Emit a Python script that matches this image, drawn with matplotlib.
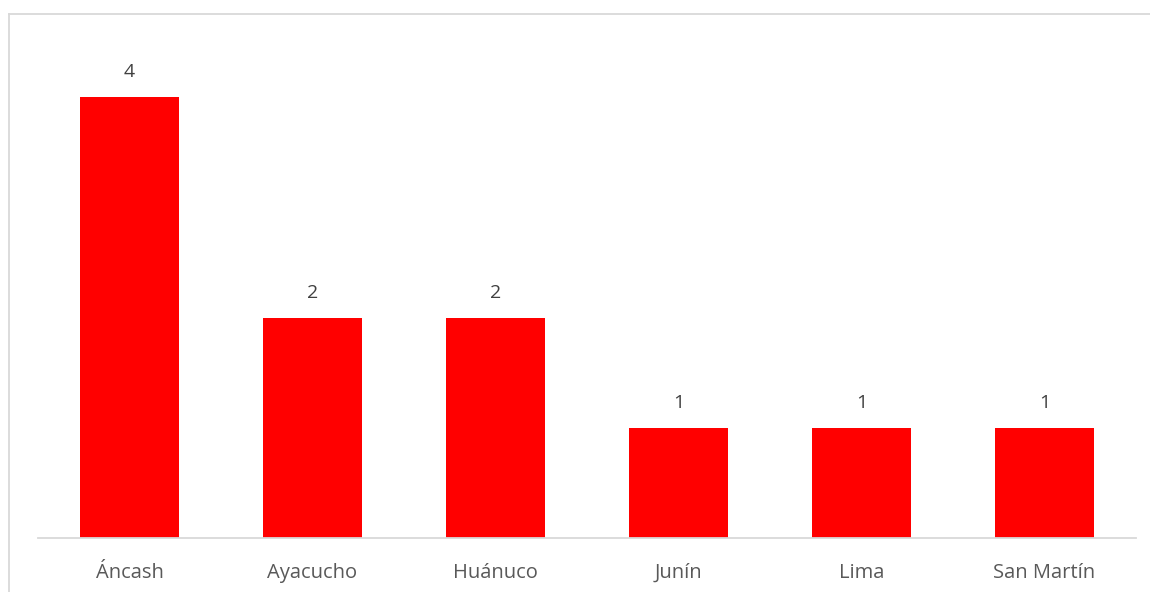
import matplotlib
matplotlib.use("Agg")
import matplotlib.pyplot as plt
from matplotlib.lines import Line2D

regions = ["Áncash", "Ayacucho", "Huánuco", "Junín", "Lima", "San Martín"]
counts = [4, 2, 2, 1, 1, 1]

plt.rcParams['font.family'] = ['Open Sans', 'DejaVu Sans']

W, H = 1150, 592
fig = plt.figure(figsize=(W / 100, H / 100), dpi=100)

# plot area: baseline at y=538px, 4.5 units tall, x from 38 to 1136 px
ax = fig.add_axes([38 / W, (H - 538) / H, (1136 - 38) / W, (538 - 42) / H])

x = range(len(regions))
bars = ax.bar(x, counts, width=0.54, color="#ff0000")
ax.set_xlim(-0.5, len(regions) - 0.5)
ax.set_ylim(0, 4.5)

for b, v in zip(bars, counts):
    ax.annotate(str(v), (b.get_x() + b.get_width() / 2, v), xytext=(0, 18),
                textcoords="offset points", ha="center", va="center",
                fontsize=14, color="#404040")

ax.set_xticks(list(x))
ax.set_xticklabels(regions, fontsize=14.5, color="#595959", va="baseline")
ax.tick_params(axis="x", length=0, pad=28.5)
ax.set_yticks([])
for s in ["top", "right", "left"]:
    ax.spines[s].set_visible(False)
ax.spines["bottom"].set_color("#d9d9d9")
ax.spines["bottom"].set_linewidth(1.3)

# chart border (left and top edges visible)
fig.add_artist(Line2D([8.5 / W, 8.5 / W], [0, (H - 13.5) / H], color="#d9d9d9", lw=1.3))
fig.add_artist(Line2D([8.5 / W, 1], [(H - 13.5) / H, (H - 13.5) / H], color="#d9d9d9", lw=1.3))

fig.savefig("out.png", dpi=100)
